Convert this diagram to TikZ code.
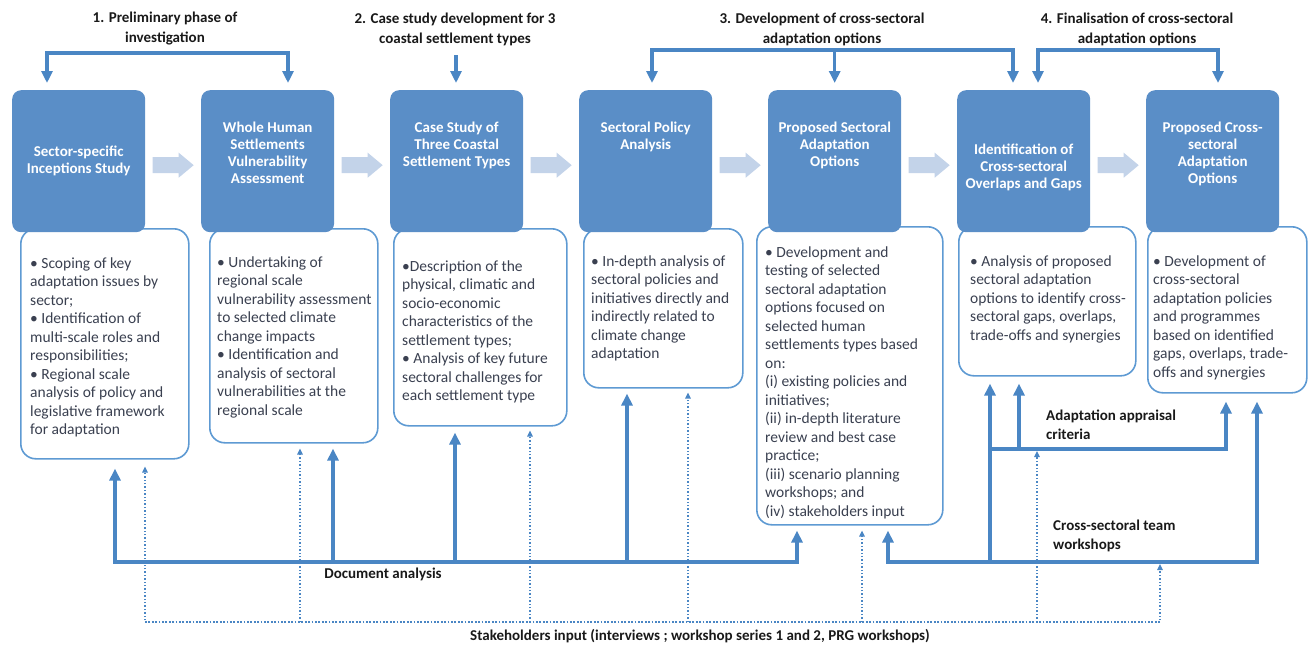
\documentclass[tikz,border=0pt]{standalone}
\usepackage{fontspec}
\setmainfont{Carlito}
\usetikzlibrary{arrows.meta,calc}
\definecolor{boxblue}{HTML}{5A8EC7}
\definecolor{lineblue}{HTML}{4A86C4}
\definecolor{edgeblue}{HTML}{5E9AD3}
\definecolor{paleblue}{HTML}{C3D3E9}
\definecolor{txt}{HTML}{3A4050}
\begin{document}
\begin{tikzpicture}[x=1pt,y=-1pt,
  darkbox/.style={fill=boxblue, rounded corners=9pt, minimum width=133pt, minimum height=142pt, anchor=north west, inner sep=0pt},
  notebox/.style={draw=edgeblue, line width=1.6pt, fill=white, rounded corners=15pt, anchor=north west, inner sep=0pt},
  title/.style={text=white, font=\fontsize{15}{17}\selectfont\bfseries, align=center, anchor=north, inner sep=0pt},
  body/.style={text=txt, font=\fontsize{15.5}{18.5}\selectfont, align=left, anchor=north west, inner sep=0pt},
  lab/.style={text=black!90, font=\fontsize{15}{20}\selectfont\bfseries, align=center, inner sep=0pt},
  sidelab/.style={text=black!90, font=\fontsize{15}{19}\selectfont\bfseries, align=left, anchor=north west, inner sep=0pt},
  blockfill/.style={fill=paleblue, draw=none},
  flow/.style={draw=lineblue, line width=3.2pt},
  flowarrow/.style={flow, -{Triangle[length=12pt,width=11pt]}},
  flowboth/.style={flow, {Triangle[length=12pt,width=11pt]}-{Triangle[length=12pt,width=11pt]}},
  dots/.style={draw=lineblue, line width=1.4pt, dotted},
  dotarrow/.style={dots, -{Triangle[length=6pt,width=5.5pt]}}
]
\useasboundingbox (0,0) rectangle (1309,648);

% text boxes (behind)
\node[notebox, minimum width=168pt, minimum height=230pt] (t1) at (20,228) {};
\node[notebox, minimum width=168pt, minimum height=214pt] (t2) at (209,228) {};
\node[notebox, minimum width=173pt, minimum height=197pt] (t3) at (393,228) {};
\node[notebox, minimum width=159pt, minimum height=159pt] (t4) at (583,228) {};
\node[notebox, minimum width=186pt, minimum height=298pt] (t5) at (756,226) {};
\node[notebox, minimum width=177pt, minimum height=149pt] (t6) at (958,226) {};
\node[notebox, minimum width=159pt, minimum height=166pt] (t7) at (1147,226) {};

% dark boxes
\node[darkbox] (b1) at (12,90) {};
\node[darkbox] (b2) at (201,90) {};
\node[darkbox] (b3) at (390,90) {};
\node[darkbox] (b4) at (579,90) {};
\node[darkbox] (b5) at (768,90) {};
\node[darkbox] (b6) at (957,90) {};
\node[darkbox] (b7) at (1146,90) {};

% titles
\node[title, anchor=center] (h1) at (b1.center) {Sector-specific\\Inceptions  Study};
\node[title] (h2) at ($(b2.north)+(0,32)$) {Whole  Human\\Settlements\\Vulnerability\\Assessment};
\node[title] (h3) at ($(b3.north)+(0,32)$) {Case Study of\\Three Coastal\\Settlement Types};
\node[title] (h4) at ($(b4.north)+(0,32)$) {Sectoral Policy\\Analysis};
\node[title] (h5) at ($(b5.north)+(0,32)$) {Proposed Sectoral\\Adaptation\\Options};
\node[title] (h6) at ($(b6.north)+(0,54)$) {Identification of\\Cross-sectoral\\Overlaps and Gaps};
\node[title] (h7) at ($(b7.north)+(0,32)$) {Proposed Cross-\\sectoral\\Adaptation\\Options};

% block arrows between boxes
\foreach \a/\b/\n in {b1/b2/k1,b2/b3/k2,b3/b4/k3,b4/b5/k4,b5/b6/k5,b6/b7/k6}{
  \coordinate (\n) at ($(\a.east)!0.5!(\b.west)+(0,4)$);
  \fill[blockfill] (\n) ++(-20.5,-8) -- ++(26,0) -- ++(0,-4.5) -- ++(15,12.5) -- ++(-15,12.5) -- ++(0,-4.5) -- ++(-26,0) -- cycle;
}

% body texts
\node[body] (x1) at (30,257.5) {• Scoping of key\\adaptation issues by\\sector;\\• Identification of\\multi-scale roles and\\responsibilities;\\• Regional scale\\analysis of policy and\\legislative framework\\for adaptation};
\node[body] (x2) at (217,256.5) {• Undertaking  of\\regional scale\\vulnerability assessment\\to selected climate\\change impacts\\• Identification and\\analysis of sectoral\\vulnerabilities at the\\regional scale};
\node[body] (x3) at (402,260.5) {•Description of the\\physical, climatic and\\socio-economic\\characteristics of the\\settlement types;\\• Analysis of key future\\sectoral challenges for\\each settlement type};
\node[body] (x4) at (591,255.5) {• In-depth analysis of\\sectoral policies and\\initiatives directly and\\indirectly  related to\\climate change\\adaptation};
\node[body] (x5) at (765,246.5) {• Development and\\testing of selected\\sectoral adaptation\\options  focused on\\selected human\\settlements types based\\on:\\(i) existing policies and\\initiatives;\\(ii) in-depth literature\\review and best case\\practice;\\(iii) scenario planning\\workshops; and\\(iv) stakeholders input};
\node[body] (x6) at (970,255.5) {• Analysis of proposed\\sectoral adaptation\\options to identify cross-\\sectoral gaps, overlaps,\\trade-offs and synergies};
\node[body] (x7) at (1153,255.5) {• Development of\\cross-sectoral\\adaptation policies\\and programmes\\based on identified\\gaps, overlaps, trade-\\offs and synergies};

% phase labels
\node[lab] (l1) at (165,29) {1. Preliminary phase of\\investigation};
\node[lab] (l2) at (455,29) {2. Case study development for 3\\coastal settlement types};
\node[lab] (l3) at (822,29) {3. Development of cross-sectoral\\adaptation options};
\node[lab] (l4) at (1137,29) {4. Finalisation of cross-sectoral\\adaptation options};

% phase brackets
\coordinate (p1a) at (47,53);
\coordinate (p1b) at (288,53);
\coordinate (p2) at (456,55);
\coordinate (p3a) at (652,50);
\coordinate (p3c) at (1013,50);
\coordinate (p4a) at (1038,50);
\coordinate (p4b) at (1218,50);
\draw[flowboth, shorten <=7pt, shorten >=7pt] (b1.north -| p1a) -- (p1a) -- (p1b) -- (b2.north -| p1b);
\draw[flowarrow, shorten >=7pt] (p2) -- (b3.north -| p2);
\draw[flowboth, shorten <=7pt, shorten >=7pt] (b4.north -| p3a) -- (p3a) -- (p3c) -- (b6.north -| p3c);
\draw[flowarrow, shorten >=7pt] (b5.north |- p3a) -- (b5.north);
\draw[flowboth, shorten <=7pt, shorten >=7pt] (b6.north -| p4a) -- (p4a) -- (p4b) -- (b7.north -| p4b);

% document analysis
\coordinate (d1) at (115,562);
\coordinate (d2) at (333,562);
\coordinate (d3) at (455,562);
\coordinate (d4) at (627,562);
\coordinate (d5) at (797,562);
\draw[flowarrow, shorten >=9pt] (d5) -- (d1) -- (t1.south -| d1);
\draw[flowarrow, shorten >=5pt] (d1) -- (d5) -- (t5.south -| d5);
\draw[flowarrow, shorten >=5pt] (d2) -- (t2.south -| d2);
\draw[flowarrow, shorten >=6pt] (d3) -- (t3.south -| d3);
\draw[flowarrow, shorten >=5pt] (d4) -- (t4.south -| d4);
\node[lab] (dl) at (383,574) {Document analysis};

% cross-sectoral team workshops
\coordinate (c1) at (888,562);
\coordinate (c2) at (990,562);
\coordinate (c3) at (1257,562);
\draw[flowarrow, shorten >=5pt] (c3) -- (c1) -- (t5.south -| c1);
\draw[flowarrow, shorten >=8pt] (c1) -- (c3) -- (t7.south -| c3);
\draw[flowarrow, shorten >=7pt] (c2) -- (t6.south -| c2);
\node[sidelab] (cl) at (1053,520) {Cross-sectoral team\\workshops};

% adaptation appraisal criteria
\coordinate (a1) at (990,449);
\coordinate (a2) at (1019,449);
\coordinate (a3) at (1226,449);
\draw[flowarrow, shorten >=8pt] (a1) -- (a3) -- (t7.south -| a3);
\draw[flowarrow, shorten >=7pt] (a2) -- (t6.south -| a2);
\node[sidelab] (al) at (1046,410) {Adaptation appraisal\\criteria};

% stakeholders input (dotted)
\coordinate (s1) at (145,622);
\coordinate (s2) at (300,622);
\coordinate (s3) at (530,622);
\coordinate (s4) at (688,622);
\coordinate (s5) at (862,622);
\coordinate (s6) at (1037,622);
\coordinate (s7) at (1160,622);
\coordinate (s6e) at (1037,449);
\coordinate (s7e) at (1160,562);
\draw[dotarrow, shorten >=7pt] (s7) -- (s1) -- (t1.south -| s1);
\draw[dotarrow, shorten >=2pt] (s1) -- (s7) -- (s7e);
\draw[dotarrow, shorten >=5pt] (s2) -- (t2.south -| s2);
\draw[dotarrow, shorten >=4pt] (s3) -- (t3.south -| s3);
\draw[dotarrow, shorten >=4pt] (s4) -- (t4.south -| s4);
\draw[dotarrow, shorten >=5pt] (s5) -- (t5.south -| s5);
\draw[dotarrow, shorten >=2pt] (s6) -- (s6e);
\node[lab] (sl) at (700,636) {Stakeholders input (interviews ; workshop series 1 and 2, PRG workshops)};
\end{tikzpicture}
\end{document}
